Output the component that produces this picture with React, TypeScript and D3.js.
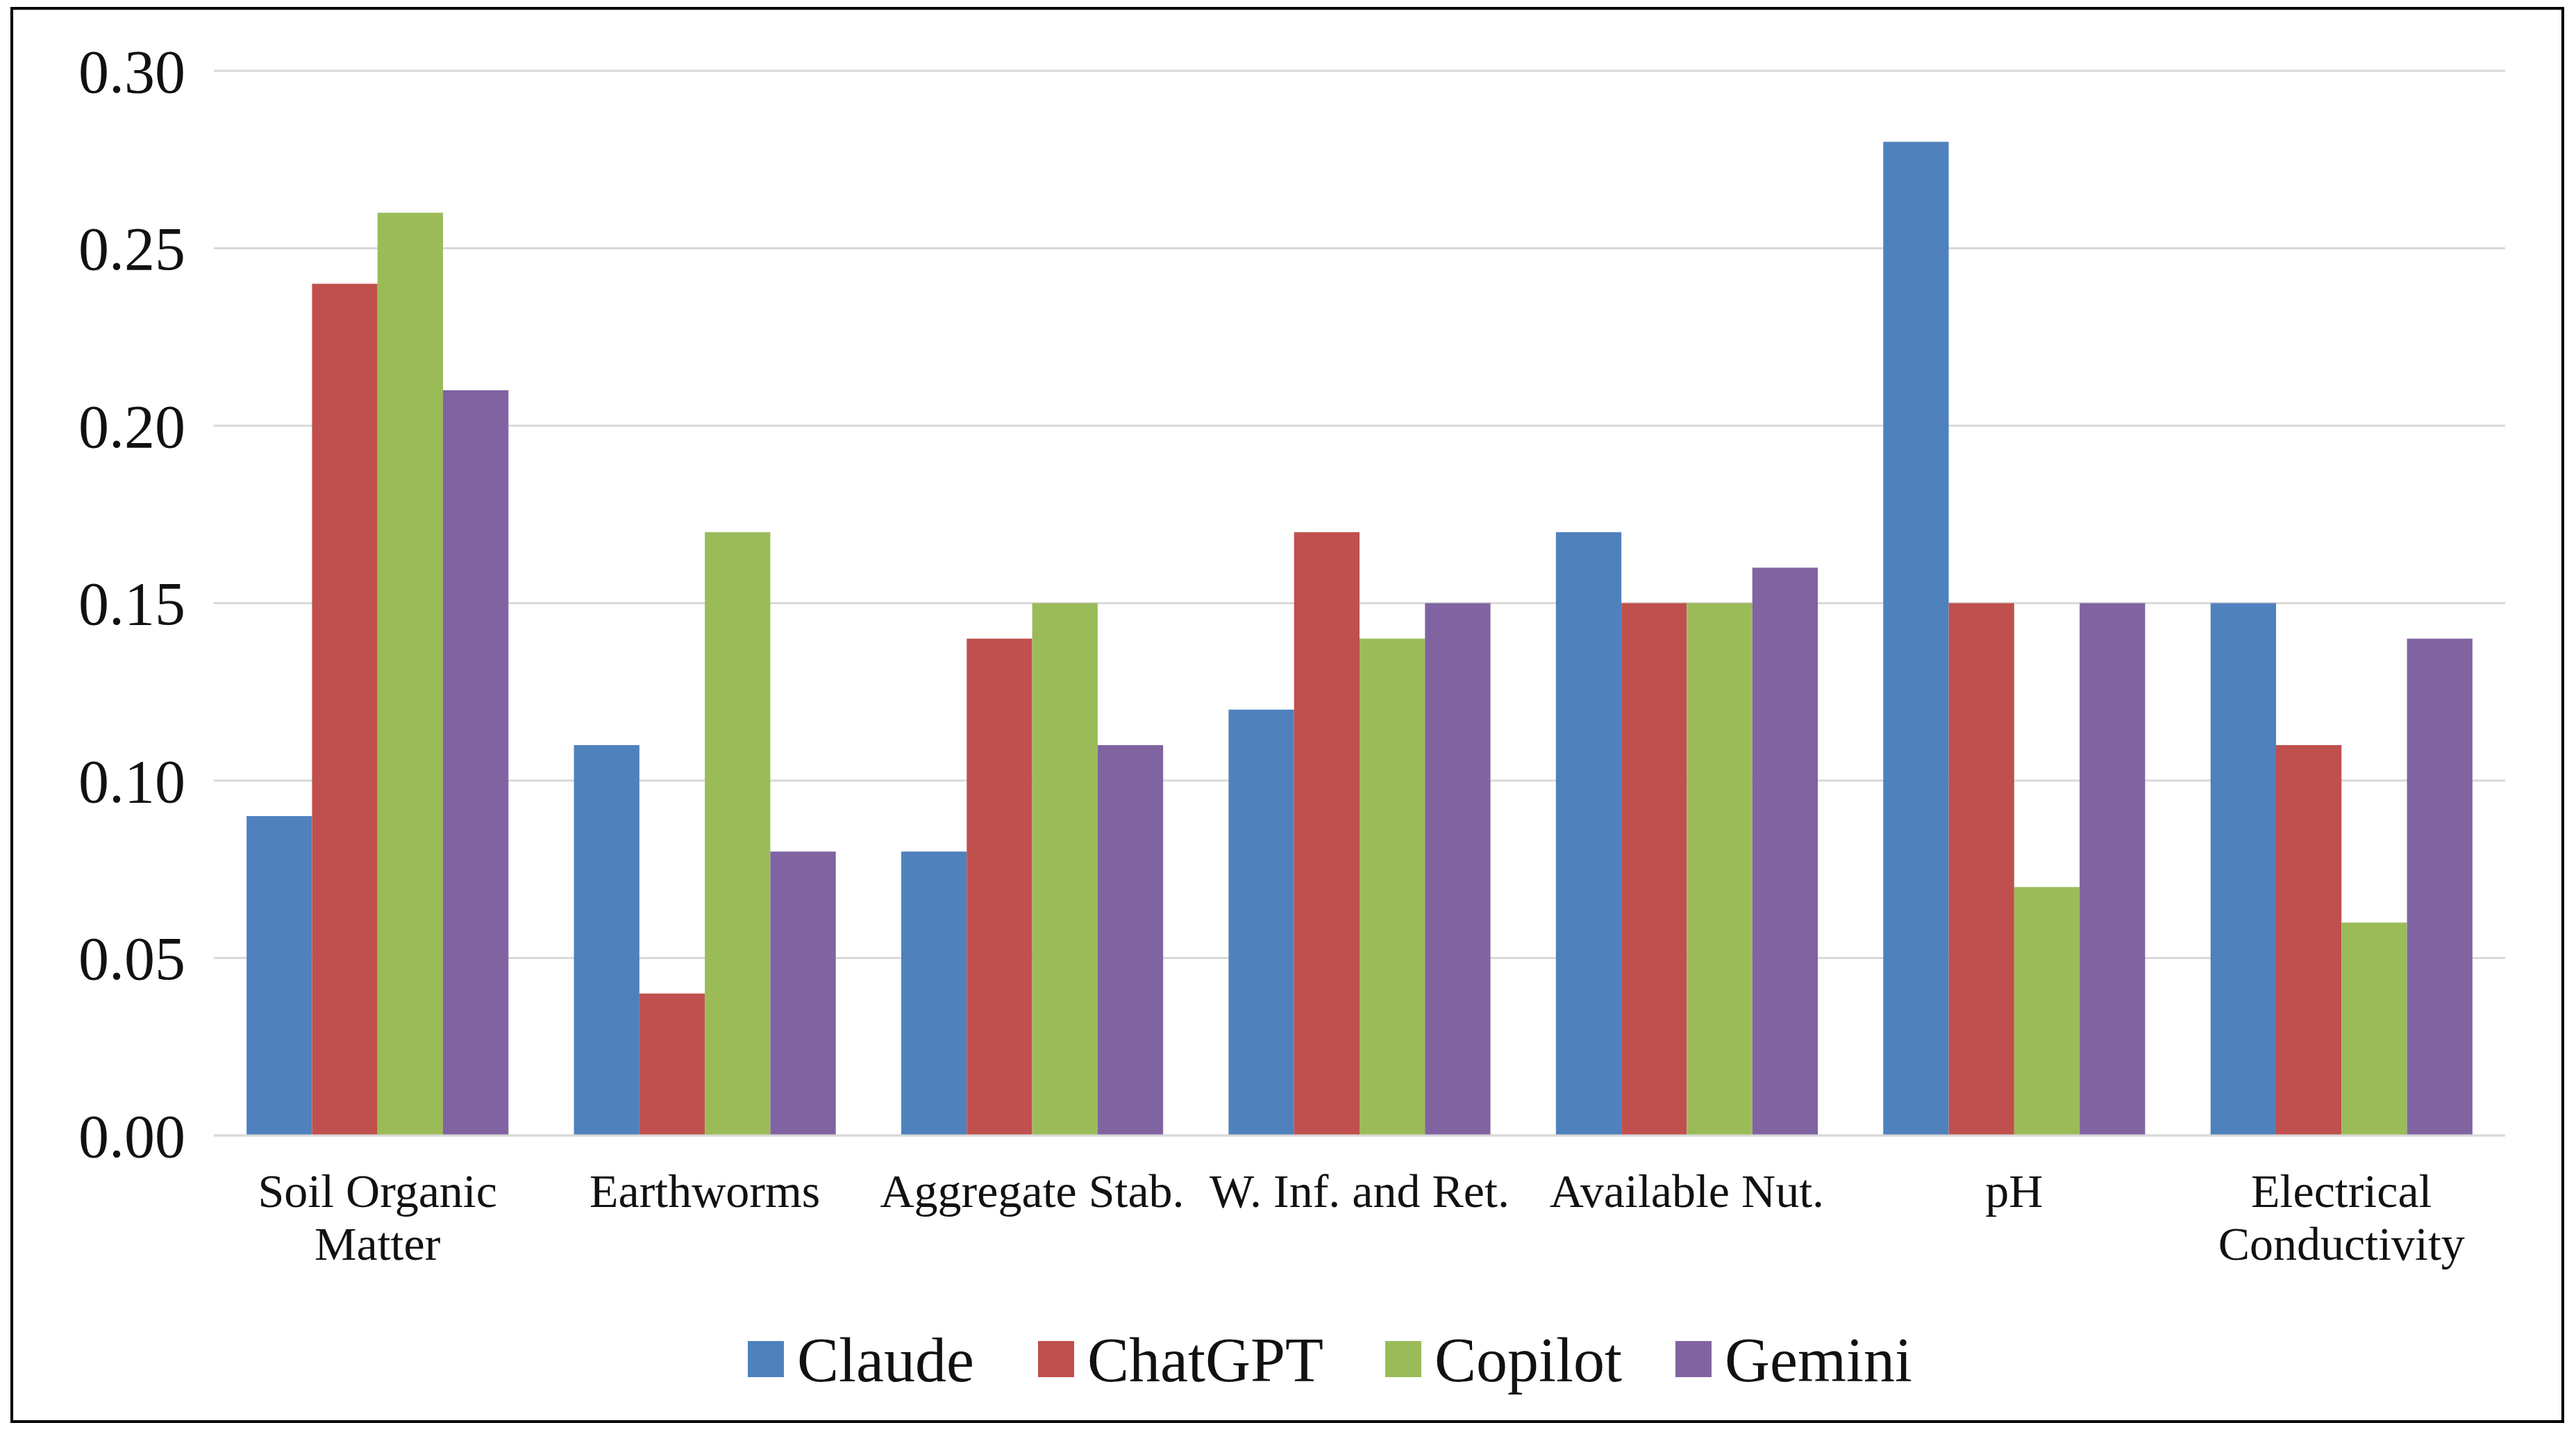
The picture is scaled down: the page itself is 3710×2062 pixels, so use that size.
import React from "react";
import * as d3 from "d3";

const categories = [["Soil Organic", "Matter"], ["Earthworms"], ["Aggregate Stab."], ["W. Inf. and Ret."], ["Available Nut."], ["pH"], ["Electrical", "Conductivity"]];
const seriesNames = ["Claude", "ChatGPT", "Copilot", "Gemini"];
const colors = ["#4F81BD", "#C0504D", "#9BBB59", "#8064A2"];
const claude = [0.09, 0.11, 0.08, 0.12, 0.17, 0.28, 0.15];
const chatgpt = [0.24, 0.04, 0.14, 0.17, 0.15, 0.15, 0.11];
const copilot = [0.26, 0.17, 0.15, 0.14, 0.15, 0.07, 0.06];
const gemini = [0.21, 0.08, 0.11, 0.15, 0.16, 0.15, 0.14];
const ticks = [0, 0.05, 0.1, 0.15, 0.2, 0.25, 0.3];

export default function App() {
  const W = 3710, H = 2062;
  const left = 308, right = 3608, top = 102, bottom = 1635;
  const series = [claude, chatgpt, copilot, gemini];
  const y = d3.scaleLinear().domain([0, 0.3]).range([bottom, top]);
  const x0 = d3.scaleBand().domain(categories.map((_, i) => String(i))).range([left, right]).paddingInner(0.2).paddingOuter(0.1);
  const x1 = d3.scaleBand().domain(seriesNames).range([0, x0.bandwidth()]);
  const font = "'Liberation Serif', 'Times New Roman', serif";
  const legendWidths = [418, 500, 418, 0];
  let lx = 1077;
  return (
    <svg width={W} height={H} style={{ display: "block", margin: -8 }} fontFamily={font}>
      <rect x={0} y={0} width={W} height={H} fill="#fff" />
      <rect x={17} y={12} width={3674} height={2035} fill="none" stroke="#000" strokeWidth={4} />
      {ticks.map(t => (
        <g key={t}>
          <line x1={left} x2={right} y1={y(t)} y2={y(t)} stroke="#D9D9D9" strokeWidth={3} />
          <text x={267} y={y(t)} dy="0.35em" textAnchor="end" fontSize={88} fill="#111">{t.toFixed(2)}</text>
        </g>
      ))}
      {categories.map((c, i) => (
        <g key={i}>
          {series.map((s, j) => (
            <rect key={j} x={x0(String(i))! + x1(seriesNames[j])!} y={y(s[i])} width={x1.bandwidth()} height={bottom - y(s[i])} fill={colors[j]} />
          ))}
          {c.map((l, k) => (
            <text key={k} x={x0(String(i))! + x0.bandwidth() / 2} y={1738 + k * 76} textAnchor="middle" fontSize={68} fill="#111">{l}</text>
          ))}
        </g>
      ))}
      <line x1={left} x2={right} y1={bottom} y2={bottom} stroke="#D9D9D9" strokeWidth={3} />
      {seriesNames.map((n, j) => {
        const xx = lx;
        lx += legendWidths[j];
        return (
          <g key={n}>
            <rect x={xx} y={1931} width={52} height={52} fill={colors[j]} />
            <text x={xx + 71} y={1957} dy="0.35em" fontSize={90} fill="#111">{n}</text>
          </g>
        );
      })}
    </svg>
  );
}
